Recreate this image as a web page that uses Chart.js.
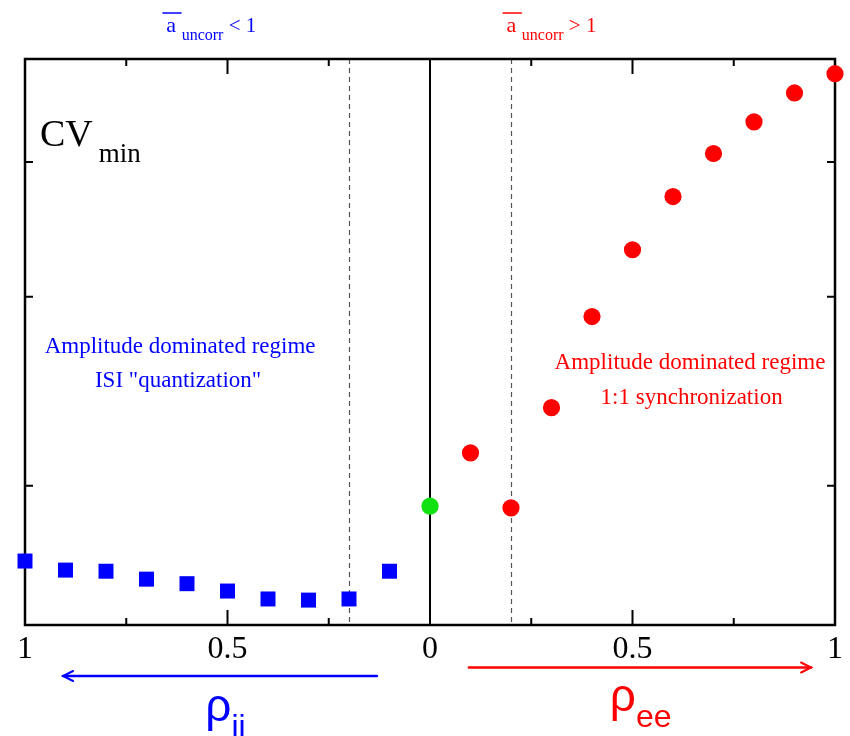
<!DOCTYPE html>
<html><head><meta charset="utf-8">
<script src="https://cdn.jsdelivr.net/npm/chart.js@4"></script>
<style>html,body{margin:0;padding:0;background:#fff;} #wrap{width:850px;height:736px;}</style>
</head><body><div id="wrap"><canvas id="c" width="850" height="736"></canvas></div>
<script>
// ---- data ----
const rhoII = [1.0, 0.9, 0.8, 0.7, 0.6, 0.5, 0.4, 0.3, 0.2, 0.1];
const cvII  = [1.13, 0.97, 0.95, 0.81, 0.73, 0.60, 0.46, 0.44, 0.46, 0.95];
const rhoEE = [0.1, 0.2, 0.3, 0.4, 0.5, 0.6, 0.7, 0.8, 0.9, 1.0];
const cvEE  = [3.04, 2.07, 3.84, 5.45, 6.63, 7.57, 8.33, 8.89, 9.40, 9.74];
const rhoZero = [0];
const cvZero  = [2.10];
const xTickValues = [-1, -0.5, 0, 0.5, 1];
const xTickLabels = ['1', '0.5', '0', '0.5', '1'];
const xMinorTicks = [-0.75, -0.25, 0.25, 0.75];
const yTickValues = [2.46, 5.80, 8.18];
const thresholdRho = [-0.2, 0.2];

const BLUE = '#0000ff', RED = '#ff0000', GREEN = '#11e011';
const SERIF = '"Liberation Serif", "Times New Roman", serif';
const SANS = '"Liberation Sans", Arial, sans-serif';

function drawRich(ctx, cx, baseY, parts, color) {
  let total = 0;
  parts.forEach(p => { ctx.font = p.font; p.w = ctx.measureText(p.t).width; total += p.w; });
  let x = cx - total / 2;
  ctx.fillStyle = color; ctx.textAlign = 'left'; ctx.textBaseline = 'alphabetic';
  const pos = [];
  parts.forEach(p => { ctx.font = p.font; ctx.fillText(p.t, x, baseY + (p.dy || 0)); pos.push(x); x += p.w; });
  return pos;
}

const framePlugin = {
  id: 'frame',
  beforeDatasetsDraw(chart) {
    const {ctx, chartArea: a, scales: {x, y}} = chart;
    ctx.save();
    // dashed threshold lines
    ctx.strokeStyle = '#555'; ctx.lineWidth = 1.2; ctx.setLineDash([5, 4]);
    thresholdRho.forEach(v => {
      const px = Math.round(x.getPixelForValue(v)) + 0.5;
      ctx.beginPath(); ctx.moveTo(px, a.top); ctx.lineTo(px, a.bottom); ctx.stroke();
    });
    ctx.setLineDash([]);
    // central solid line
    ctx.strokeStyle = '#000'; ctx.lineWidth = 2;
    const c0 = x.getPixelForValue(0);
    ctx.beginPath(); ctx.moveTo(c0, a.top); ctx.lineTo(c0, a.bottom); ctx.stroke();
    // frame
    ctx.lineWidth = 2.5;
    ctx.strokeRect(a.left, a.top, a.right - a.left, a.bottom - a.top);
    // x ticks (inward, top & bottom)
    ctx.lineWidth = 2;
    const xt = [];
    xTickValues.forEach(v => xt.push([v, 15]));
    xMinorTicks.forEach(v => xt.push([v, 7]));
    xt.forEach(([v, len]) => {
      const px = x.getPixelForValue(v);
      ctx.beginPath();
      ctx.moveTo(px, a.bottom); ctx.lineTo(px, a.bottom - len);
      ctx.moveTo(px, a.top); ctx.lineTo(px, a.top + len);
      ctx.stroke();
    });
    // y ticks (inward, left & right)
    yTickValues.forEach(v => {
      const py = y.getPixelForValue(v);
      ctx.beginPath();
      ctx.moveTo(a.left, py); ctx.lineTo(a.left + 8, py);
      ctx.moveTo(a.right, py); ctx.lineTo(a.right - 8, py);
      ctx.stroke();
    });
    // x tick labels
    ctx.fillStyle = '#000'; ctx.font = '32px ' + SERIF;
    ctx.textAlign = 'center'; ctx.textBaseline = 'alphabetic';
    xTickValues.forEach((v, i) => ctx.fillText(xTickLabels[i], x.getPixelForValue(v), a.bottom + 33));
    ctx.restore();
  },
  afterDatasetsDraw(chart) {
    const {ctx, chartArea: a, scales: {x, y}} = chart;
    ctx.save();
    // CV_min
    ctx.fillStyle = '#000'; ctx.textAlign = 'left'; ctx.textBaseline = 'alphabetic';
    ctx.font = '38px ' + SERIF;
    ctx.fillText('CV', a.left + 15, a.top + 87);
    const cvw = ctx.measureText('CV').width;
    ctx.font = '27px ' + SERIF;
    ctx.fillText('min', a.left + 15 + cvw + 6, a.top + 103);

    // top labels a_uncorr
    function topLabel(xv, rel, color) {
      const parts = [
        {t: 'a', font: '22px ' + SERIF},
        {t: ' ', font: '22px ' + SERIF},
        {t: 'uncorr', font: '16px ' + SERIF, dy: 8},
        {t: ' ' + rel + ' 1', font: '21px ' + SERIF}
      ];
      const pos = drawRich(ctx, x.getPixelForValue(xv), a.top - 27, parts, color);
      ctx.strokeStyle = color; ctx.lineWidth = 1.5;
      ctx.beginPath(); ctx.moveTo(pos[0] - 4, a.top - 46); ctx.lineTo(pos[2], a.top - 46); ctx.stroke();
    }
    topLabel(-0.54, '<', BLUE);
    topLabel(0.30, '>', RED);

    // regime annotations
    ctx.font = '23px ' + SERIF; ctx.textAlign = 'center'; ctx.textBaseline = 'alphabetic';
    ctx.fillStyle = BLUE;
    ctx.fillText('Amplitude dominated regime', x.getPixelForValue(-0.617), y.getPixelForValue(4.81));
    ctx.fillText('ISI "quantization"', x.getPixelForValue(-0.622), y.getPixelForValue(4.21));
    ctx.fillStyle = RED;
    ctx.fillText('Amplitude dominated regime', x.getPixelForValue(0.642), y.getPixelForValue(4.52));
    ctx.fillText('1:1 synchronization', x.getPixelForValue(0.646), y.getPixelForValue(3.905));

    // arrows
    function arrow(x1, x2, py, color) {
      const p1 = x.getPixelForValue(x1), p2 = x.getPixelForValue(x2);
      const dir = Math.sign(p2 - p1);
      ctx.strokeStyle = color; ctx.lineWidth = 2.5; ctx.lineCap = 'round';
      ctx.beginPath(); ctx.moveTo(p1, py); ctx.lineTo(p2, py); ctx.stroke();
      ctx.lineWidth = 2;
      ctx.beginPath();
      ctx.moveTo(p2 - dir * 10, py - 5); ctx.lineTo(p2, py); ctx.lineTo(p2 - dir * 10, py + 5);
      ctx.stroke();
    }
    arrow(-0.131, -0.906, a.bottom + 51, BLUE);
    arrow(0.096, 0.941, a.bottom + 42.5, RED);

    // rho labels
    drawRich(ctx, x.getPixelForValue(-0.505), a.bottom + 96, [
      {t: 'ρ', font: '46px ' + SANS},
      {t: 'ii', font: '32px ' + SANS, dy: 16}
    ], BLUE);
    drawRich(ctx, x.getPixelForValue(0.52), a.bottom + 86, [
      {t: 'ρ', font: '46px ' + SANS},
      {t: 'ee', font: '32px ' + SANS, dy: 16}
    ], RED);
    ctx.restore();
  }
};

const ctx = document.getElementById('c').getContext('2d');
new Chart(ctx, {
  type: 'scatter',
  data: {
    datasets: [
      {
        label: 'rho_ii',
        data: rhoII.map((r, i) => ({x: -r, y: cvII[i]})),
        pointStyle: 'rect', pointRadius: 10.6, pointHoverRadius: 10.6,
        backgroundColor: BLUE, borderColor: BLUE, borderWidth: 0
      },
      {
        label: 'rho_ee',
        data: rhoEE.map((r, i) => ({x: r, y: cvEE[i]})),
        pointStyle: 'circle', pointRadius: 8.6, pointHoverRadius: 8.6,
        backgroundColor: RED, borderColor: RED, borderWidth: 0
      },
      {
        label: 'zero',
        data: rhoZero.map((r, i) => ({x: r, y: cvZero[i]})),
        pointStyle: 'circle', pointRadius: 8.6, pointHoverRadius: 8.6,
        backgroundColor: GREEN, borderColor: GREEN, borderWidth: 0
      }
    ]
  },
  options: {
    responsive: false,
    animation: false,
    clip: false,
    layout: {padding: {left: 25, right: 15, top: 59, bottom: 111}},
    plugins: {legend: {display: false}, tooltip: {enabled: false}},
    scales: {
      x: {type: 'linear', min: -1, max: 1, display: false},
      y: {type: 'linear', min: 0, max: 10, display: false}
    }
  },
  plugins: [framePlugin]
});
</script>
</body></html>
